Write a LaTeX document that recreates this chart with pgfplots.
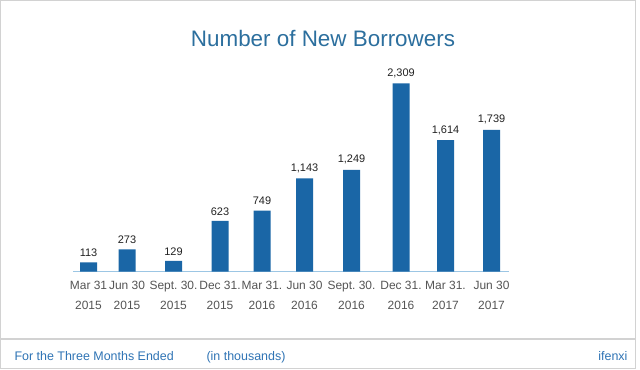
\documentclass[border=0pt]{standalone}
\usepackage{pgfplots}
\pgfplotsset{compat=1.18}
\usepackage{fontspec}
\setmainfont{Liberation Sans}
\frenchspacing
\definecolor{barblue}{HTML}{1A66A6}
\definecolor{titleblue}{HTML}{2C6F9E}
\definecolor{axisblue}{HTML}{9CC6E4}
\definecolor{framegray}{HTML}{D2D2D2}
\definecolor{footblue}{HTML}{2F74B5}
\definecolor{ticktext}{HTML}{555555}
\definecolor{valtext}{HTML}{222222}
\begin{document}
\begin{tikzpicture}[x=1bp,y=1bp]
\path[use as bounding box] (0,0) rectangle (640,369);
\fill[white] (0,0) rectangle (640,369);
\draw[framegray, line width=1bp] (0.5,0.5) rectangle (635.5,368.5);
\draw[framegray, line width=2bp] (0,30) -- (636,30);
\node[text=titleblue, font=\fontsize{22.5}{27}\selectfont] at (323,331) {Number of New Borrowers};
\node[anchor=base west, text=footblue, font=\fontsize{12.5}{15}\selectfont] at (11,8.5) {For the Three Months Ended};
\node[anchor=base west, text=footblue, font=\fontsize{12.5}{15}\selectfont] at (203,8.5) {(in thousands)};
\node[anchor=base east, text=footblue, font=\fontsize{12.5}{15}\selectfont] at (631,8.5) {ifenxi};
\begin{axis}[
  at={(73bp,97.5bp)}, anchor=south west,
  scale only axis, width=436bp, height=203.6bp,
  xmin=73, xmax=509, ymin=0, ymax=2500,
  axis x line=bottom, axis y line=none,
  x axis line style={-, draw=axisblue, line width=1.2bp},
  xtick={88.5,127,173.5,220,262,304.5,351.5,401,445.5,491.5},
  xticklabels={{Mar 31\\2015},{Jun 30\\2015},{Sept. 30.\\2015},{Dec 31.\\2015},{Mar 31.\\2016},{Jun 30\\2016},{Sept. 30.\\2016},{Dec 31.\\2016},{Mar 31.\\2017},{Jun 30\\2017}},
  major tick length=0pt,
  xtick style={draw=none},
  xticklabel style={anchor=north, inner sep=0pt, yshift=-9.5bp, align=center, text=ticktext, font=\fontsize{12}{20}\selectfont},
  /pgf/number format/assume math mode=true,
  /pgf/number format/1000 sep={,},
  clip=false,
]
\addplot[ybar, bar width=17, fill=barblue, draw=none,
  nodes near coords,
  every node near coord/.append style={text=valtext, font=\fontsize{11}{13}\selectfont, anchor=south, yshift=2bp}]
  coordinates {(88.5,113) (127,273) (173.5,129) (220,623) (262,749) (304.5,1143) (351.5,1249) (401,2309) (445.5,1614) (491.5,1739)};
\end{axis}
\end{tikzpicture}
\end{document}
